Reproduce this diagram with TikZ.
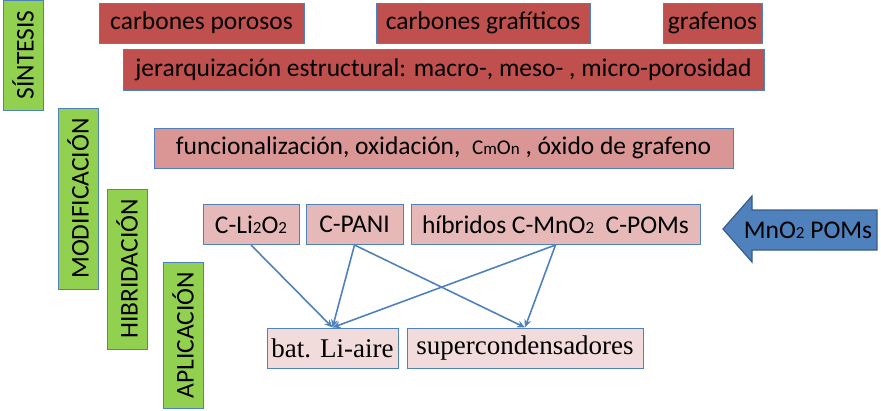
\documentclass[tikz,border=0pt]{standalone}
\usepackage{fontspec}
\setmainfont{Carlito}
\newfontfamily\serifbox{Liberation Serif}
\usetikzlibrary{positioning,arrows.meta}
\definecolor{boxblue}{HTML}{4F81BD}
\definecolor{darkred}{HTML}{C0504D}
\definecolor{midred}{HTML}{D99694}
\definecolor{palered}{HTML}{E6B9B8}
\definecolor{palerose}{HTML}{F2DCDB}
\definecolor{stagegreen}{HTML}{92D050}
\definecolor{arrowedge}{HTML}{385D8A}
\newcommand{\subidx}[1]{{\fontsize{17}{17}\selectfont #1}}
\tikzset{base node/.style={draw=boxblue,line width=1pt,minimum height=40pt,inner sep=0pt,
font=\fontsize{25.5}{30}\selectfont}}
\tikzset{stage node/.style={base node,fill=stagegreen,rotate=90}}
\tikzset{synth node/.style={base node,fill=darkred}}
\tikzset{mod node/.style={base node,fill=midred}}
\tikzset{hyb node/.style={base node,fill=palered}}
\tikzset{app node/.style={base node,fill=palerose,font=\serifbox\fontsize{27}{30}\selectfont}}
\tikzset{link/.style={draw=boxblue,line width=1.6pt,-{Stealth[length=8pt,width=7pt]}}}

\begin{document}
\begin{tikzpicture}[x=1pt,y=-1pt]
\useasboundingbox (0,0) rectangle (881,410);

% stages
\node[stage node,minimum width=110pt] (sintesis) at (23,55) {SÍNTESIS};
\node[stage node,minimum width=181pt] (modif) at (78,198.5) {MODIFICACIÓN};
\node[stage node,minimum width=160pt] (hibrid) at (127,269) {HIBRIDACIÓN};
\node[stage node,minimum width=146pt] (aplic) at (183,335) {APLICACIÓN};

% synthesis
\node[synth node,minimum width=205pt] (porosos) at (201.5,23) {carbones porosos};
\node[synth node,minimum width=214pt] (grafiticos) at (483,23) {carbones grafíticos};
\node[synth node,minimum width=99pt] (grafenos) at (712.5,23) {grafenos};
\node[synth node,minimum width=641pt,minimum height=41pt] (jerarq) at (443.5,69.5)
  {jerarquización estructural: macro-, meso- , micro-porosidad};

% modification
\node[mod node,minimum width=579pt] (funcional) at (443.5,148)
  {funcionalización, oxidación,\ \ {\fontsize{21}{21}\selectfont C\subidx{m}O\subidx{n}} , óxido de grafeno};

% hybrids
\node[hyb node,minimum width=96pt] (cli) at (251,224.5) {C-Li\subidx{2}O\subidx{2}};
\node[hyb node,minimum width=97pt] (pani) at (354.5,224.5) {C-PANI};
\node[hyb node,minimum width=289pt] (hib) at (555.5,224.5) {híbridos C-MnO\subidx{2}\ \ C-POMs};

% applications
\node[app node,minimum width=131pt] (bat) at (332.5,348) {bat. Li-aire};
\node[app node,minimum width=236pt] (super) at (525,348) {supercondensadores};

% block arrow
\draw[fill=boxblue,draw=arrowedge,line width=1.2pt] (723,229) -- (752,196) -- (752,210) -- (877,210)
  -- (877,250) -- (752,250) -- (752,262) -- cycle;
\node[font=\fontsize{25.5}{30}\selectfont] (mnpoms) at (808,230) {MnO\subidx{2} POMs};

% links
\foreach \a/\b in {cli/bat,pani/bat,pani/super,hib/bat,hib/super}{
    \draw[link] (\a.south) -- (\b.north);
}
\end{tikzpicture}
\end{document}
